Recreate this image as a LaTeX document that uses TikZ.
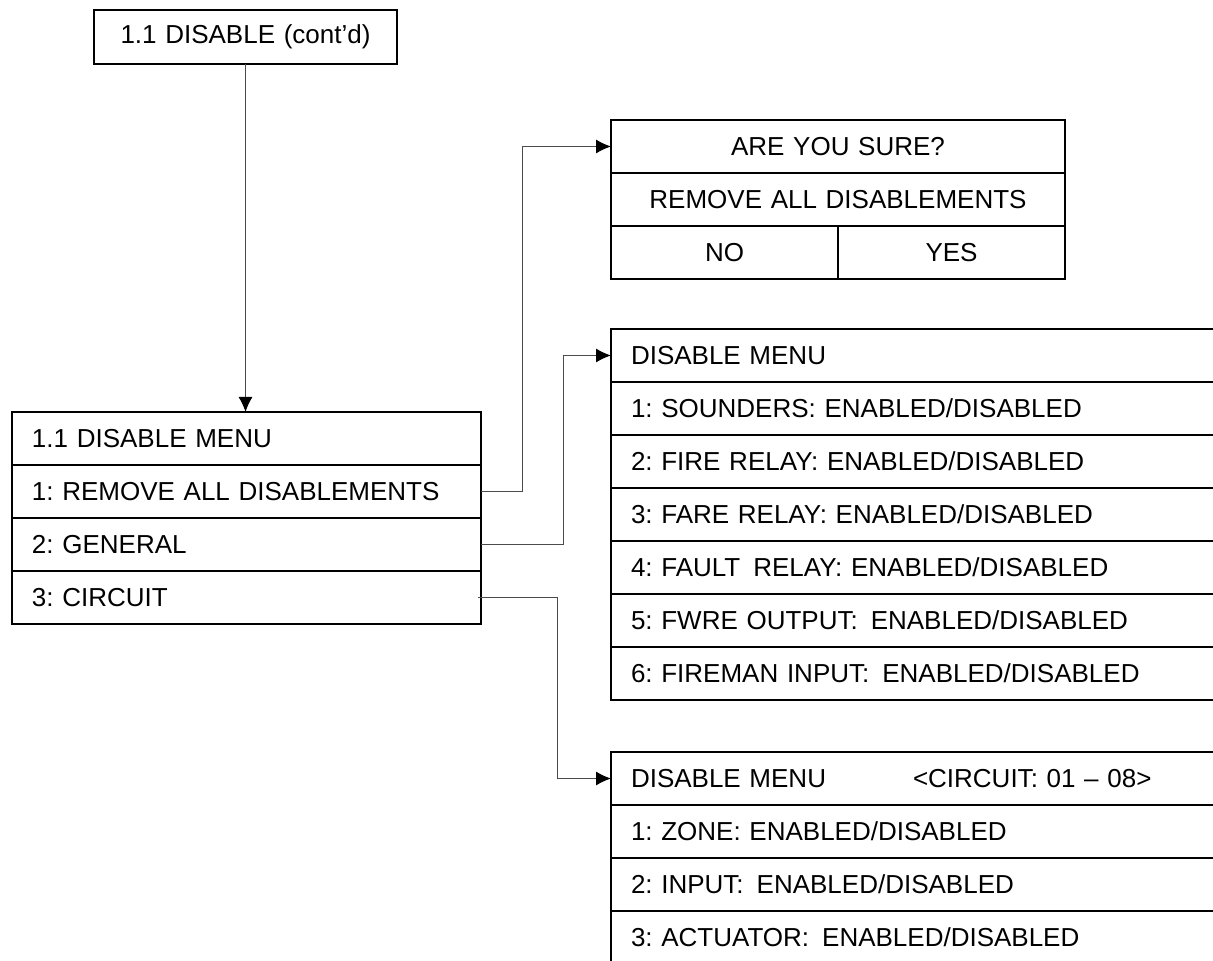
\documentclass[tikz,border=0pt]{standalone}
\usepackage{fontspec}
\setmainfont{Liberation Sans}
\usepackage{tikz}
\usetikzlibrary{arrows.meta, positioning}
\frenchspacing

\begin{document}
\begin{tikzpicture}[x=0.5pt, y=-0.5pt, font=\fontsize{13}{15}\selectfont]
    \tikzset{cell/.style={draw, line width=1pt, rectangle, anchor=north west, outer sep=0pt, minimum height=26.5pt, inner ysep=0pt, inner xsep=10pt, align=left, text width=#1}}
    \tikzset{ccell/.style={cell=#1, inner xsep=0pt, align=center}}
    \tikzset{link/.style={draw=black!70, line width=0.5pt, -{Latex[length=7.5pt,width=7pt,black]}}}
    \clip (0,0) rectangle (1213,961);
    \node[ccell=151.5pt, minimum height=27pt] (top) at (94,10) {1.1 DISABLE (cont'd)};
    \foreach \t [count=\i from 0] in {1.1 DISABLE MENU, 1: REMOVE ALL DISABLEMENTS, 2: GENERAL, 3: CIRCUIT}
        \node[cell=214.5pt] (menu\i) at (12,{412+53*\i}) {\t};
    \node[ccell=227pt] (sure0) at (611,120) {ARE YOU SURE?};
    \node[ccell=227pt] (sure1) at (611,173) {REMOVE ALL DISABLEMENTS};
    \node[ccell=113.5pt] (no) at (611,226) {NO};
    \node[ccell=113.5pt] (yes) at (838,226) {YES};
    \foreach \t [count=\i from 0] in {DISABLE MENU, 1: SOUNDERS: ENABLED/DISABLED, 2: FIRE RELAY: ENABLED/DISABLED, 3: FARE RELAY: ENABLED/DISABLED, 4: FAULT\ \,RELAY: ENABLED/DISABLED, 5: FWRE OUTPUT:\ \,ENABLED/DISABLED, 6: FIREMAN INPUT:\ \,ENABLED/DISABLED}
        \node[cell=305pt] (gen\i) at (611,{329+53*\i}) {\t};
    \foreach \t [count=\i from 0] in {{\makebox[141pt][l]{DISABLE MENU}<CIRCUIT: 01 – 08>}, 1: ZONE: ENABLED/DISABLED, 2: INPUT:\ \,ENABLED/DISABLED, 3: ACTUATOR:\ \,ENABLED/DISABLED}
        \node[cell=305pt] (circ\i) at (611,{752+53*\i}) {\t};
    \draw[link] (top.south) -- (top.south |- menu0.north);
    \draw[link] (menu1.east) -- ++(41,0) |- (sure0.west);
    \draw[link] (menu2.east) -- ++(82,0) |- (gen0.west);
    \draw[link] ([xshift=-1.5pt]menu3.east) -- ++(79,0) |- (circ0.west);
\end{tikzpicture}
\end{document}
